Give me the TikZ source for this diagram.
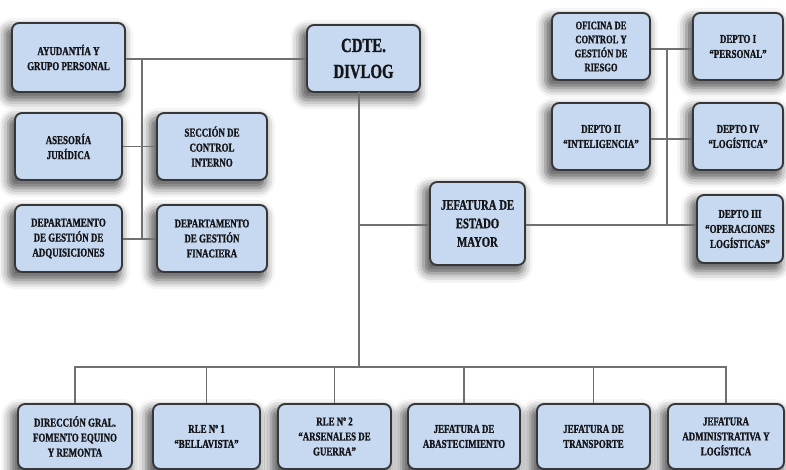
\documentclass[tikz,border=0pt]{standalone}
\usepackage{fontspec}
\newfontfamily\boxfont{Liberation Serif}[FakeStretch=0.74, FakeBold=1.2]
\usetikzlibrary{shadows.blur}
\definecolor{boxfill}{RGB}{198,217,240}
\definecolor{boxline}{RGB}{55,55,58}
\definecolor{conn}{RGB}{112,112,112}
\definecolor{txt}{RGB}{20,20,25}
\tikzset{
  orgbox/.style={draw=boxline, line width=1.9pt, fill=boxfill, rounded corners=7pt,
    align=center, text=txt, inner sep=1pt,
    font=\boxfont\bfseries\fontsize{12}{15}\selectfont,
    blur shadow={shadow xshift=-4pt, shadow yshift=-6pt, shadow blur radius=9pt, shadow opacity=65, shadow scale=1.05}},
  link/.style={draw=conn, line width=1.3pt},
}
\begin{document}
\begin{tikzpicture}[x=1pt,y=-1pt]
\useasboundingbox (0,0) rectangle (786,470);
% top-left group
\node[orgbox, minimum width=113pt, minimum height=69pt] (ayud) at (68.5,57.5) {AYUDANTÍA Y\\GRUPO PERSONAL};
\node[orgbox, minimum width=113pt, minimum height=67pt, font=\boxfont\bfseries\fontsize{20}{26}\selectfont] (cdte) at (363.5,58.5) {CDTE.\\DIVLOG};
\node[orgbox, minimum width=107pt, minimum height=67pt] (ases) at (68.5,146.5) {ASESORÍA\\JURÍDICA};
\node[orgbox, minimum width=110pt, minimum height=67pt] (secc) at (212,146.5) {SECCIÓN DE\\CONTROL\\INTERNO};
\node[orgbox, minimum width=107pt, minimum height=67pt] (adq) at (68.5,238.5) {DEPARTAMENTO\\DE GESTIÓN DE\\ADQUISICIONES};
\node[orgbox, minimum width=110pt, minimum height=67pt] (fin) at (212,238.5) {DEPARTAMENTO\\DE GESTIÓN\\FINACIERA};
% staff group
\node[orgbox, minimum width=95pt, minimum height=83pt, font=\boxfont\bfseries\fontsize{14.5}{18.5}\selectfont] (jefem) at (477.5,223.5) {JEFATURA DE\\ESTADO\\MAYOR};
\node[orgbox, minimum width=98pt, minimum height=67pt, font=\boxfont\bfseries\fontsize{11.5}{14}\selectfont] (ofic) at (601,46.5) {OFICINA DE\\CONTROL Y\\GESTIÓN DE\\RIESGO};
\node[orgbox, minimum width=90pt, minimum height=67pt] (d1) at (738,46.5) {DEPTO I\\“PERSONAL”};
\node[orgbox, minimum width=98pt, minimum height=67pt] (d2) at (601,136.5) {DEPTO II\\“INTELIGENCIA”};
\node[orgbox, minimum width=90pt, minimum height=67pt] (d4) at (738,136.5) {DEPTO IV\\“LOGÍSTICA”};
\node[orgbox, minimum width=86pt, minimum height=68pt] (d3) at (740,229) {DEPTO III\\“OPERACIONES\\LOGÍSTICAS”};
% bottom row
\node[orgbox, minimum width=114pt, minimum height=65pt] (b1) at (75,436.5) {DIRECCIÓN GRAL.\\FOMENTO EQUINO\\Y REMONTA};
\node[orgbox, minimum width=107pt, minimum height=65pt] (b2) at (206.5,436.5) {RLE Nº 1\\“BELLAVISTA”};
\node[orgbox, minimum width=113pt, minimum height=65pt] (b3) at (334.5,436.5) {RLE Nº 2\\“ARSENALES DE\\GUERRA”};
\node[orgbox, minimum width=112pt, minimum height=65pt] (b4) at (464,436.5) {JEFATURA DE\\ABASTECIMIENTO};
\node[orgbox, minimum width=113pt, minimum height=65pt] (b5) at (593.5,436.5) {JEFATURA DE\\TRANSPORTE};
\node[orgbox, minimum width=116pt, minimum height=65pt] (b6) at (726,436.5) {JEFATURA\\ADMINISTRATIVA Y\\LOGÍSTICA};
% helper coordinates
\coordinate (lsp) at (142,59);
\coordinate (lspb) at (142,239);
\coordinate (msp) at (359,92);
\coordinate (bus) at (359,367);
\coordinate (jbr) at (359,225);
\coordinate (rsp) at (667,49);
\coordinate (rspb) at (667,225);
\coordinate (rmid) at (667,139);
% connectors
\draw[link] (ayud.east |- lsp) -- (cdte.west |- lsp);
\draw[link] (lsp) -- (lspb);
\draw[link] (ases.east) -- (secc.west);
\draw[link] (adq.east |- lspb) -- (fin.west |- lspb);
\draw[link] (msp) -- (bus);
\draw[link] (jbr) -- (jefem.west |- jbr);
\draw[link] (jefem.east |- jbr) -- (d3.west |- jbr);
\draw[link] (rsp) -- (rspb);
\draw[link] (ofic.east |- rsp) -- (d1.west |- rsp);
\draw[link] (d2.east |- rmid) -- (d4.west |- rmid);
\draw[link] (b1.north) -- (b1.north |- bus) -- (b6.north |- bus) -- (b6.north);
\draw[link] (b2.north) -- (b2.north |- bus);
\draw[link] (b3.north) -- (b3.north |- bus);
\draw[link] (b4.north) -- (b4.north |- bus);
\draw[link] (b5.north) -- (b5.north |- bus);
\end{tikzpicture}
\end{document}
